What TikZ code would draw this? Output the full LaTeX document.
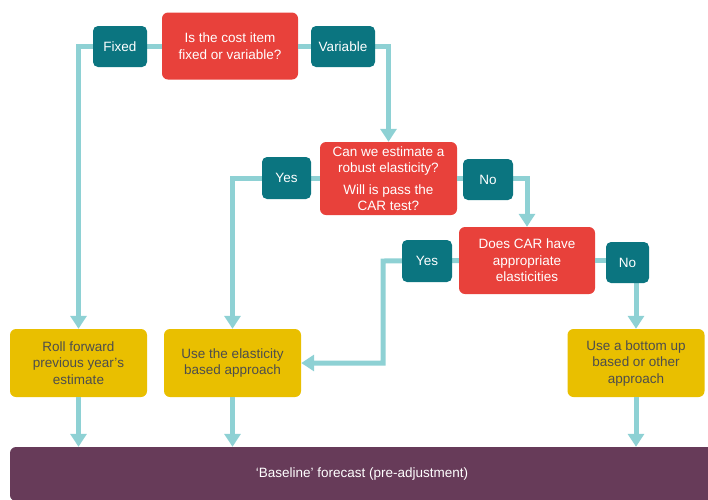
\documentclass[tikz,border=0pt]{standalone}
\usepackage{fontspec}
\setmainfont{Liberation Sans}
\usetikzlibrary{positioning,arrows.meta}
\definecolor{qred}{HTML}{E8413B}
\definecolor{ansteal}{HTML}{0B7580}
\definecolor{linkteal}{HTML}{8ED1D4}
\definecolor{outyellow}{HTML}{E9BF00}
\definecolor{outtext}{HTML}{4D4D4D}
\definecolor{basepurple}{HTML}{673B59}

\begin{document}
\begin{tikzpicture}[x=1pt, y=-1pt,
                    decision/.style={fill=qred, text=white, rounded corners=6pt, align=center,
                                     minimum width=136pt, minimum height=67pt, inner sep=2pt,
                                     font=\fontsize{13.5}{16.5}\selectfont},
                    outcome/.style={fill=outyellow, text=outtext, rounded corners=6pt, align=center,
                                    minimum width=137pt, minimum height=68pt, inner sep=2pt,
                                    font=\fontsize{13.5}{16.5}\selectfont},
                    answer/.style={fill=ansteal, text=white, rounded corners=5pt,
                                   minimum height=41pt, inner sep=2pt,
                                   font=\fontsize{13.5}{16.5}\selectfont},
                    link/.style={draw=linkteal, line width=5pt,
                                 -{Triangle[width=16pt,length=13pt]}},
                    baseline/.style={fill=basepurple, text=white, rounded corners=6pt,
                                     minimum width=704pt, minimum height=54pt,
                                     font=\fontsize{13.5}{16.5}\selectfont}]
    \useasboundingbox (0,0) rectangle (708,499);
    \clip (0,0) rectangle (708,499);

    % questions
    \node[decision] (cost) at (230,46) {Is the cost item\\fixed or variable?};
    \node[decision, minimum width=137pt, minimum height=73pt] (robust) at (388.5,178.5)
        {Can we estimate a\\robust elasticity?\\[5pt]Will is pass the\\CAR test?};
    \node[decision] (car) at (527,260.5) {Does CAR have\\appropriate\\elasticities};

    % outcomes
    \node[outcome] (roll) at (78.5,363) {Roll forward\\previous year’s\\estimate};
    \node[outcome] (elast) at (232.5,363) {Use the elasticity\\based approach};
    \node[outcome] (bottomup) at (636,363) {Use a bottom up\\based or other\\approach};
    \node[baseline] (base) at (362,474) {‘Baseline’ forecast (pre-adjustment)};

    % connectors
    \coordinate (carbend) at (383,261);
    \draw[link] (cost.west) -| (roll.north);
    \draw[link] (cost.east) -| (robust.north);
    \draw[link] (robust.west) -| (elast.north);
    \draw[link] (robust.east) -| (car.north);
    \draw[link] (car.west) -- (carbend) |- (elast.east);
    \draw[link] (car.east) -| (bottomup.north);
    \draw[link] (roll.south) -- (roll.south |- base.north);
    \draw[link] (elast.south) -- (elast.south |- base.north);
    \draw[link] (bottomup.south) -- (bottomup.south |- base.north);

    % answers on the lines
    \node[answer, minimum width=54pt] (fixed) at (120,46.5) {Fixed};
    \node[answer, minimum width=64pt] (variable) at (343,46.5) {Variable};
    \node[answer, minimum width=49pt, minimum height=42pt] (yesrobust) at (286.5,178) {Yes};
    \node[answer, minimum width=50pt] (norobust) at (488,179.5) {No};
    \node[answer, minimum width=50pt, minimum height=42pt] (yescar) at (427,261) {Yes};
    \node[answer, minimum width=43pt] (nocar) at (627.5,262.5) {No};
\end{tikzpicture}
\end{document}
